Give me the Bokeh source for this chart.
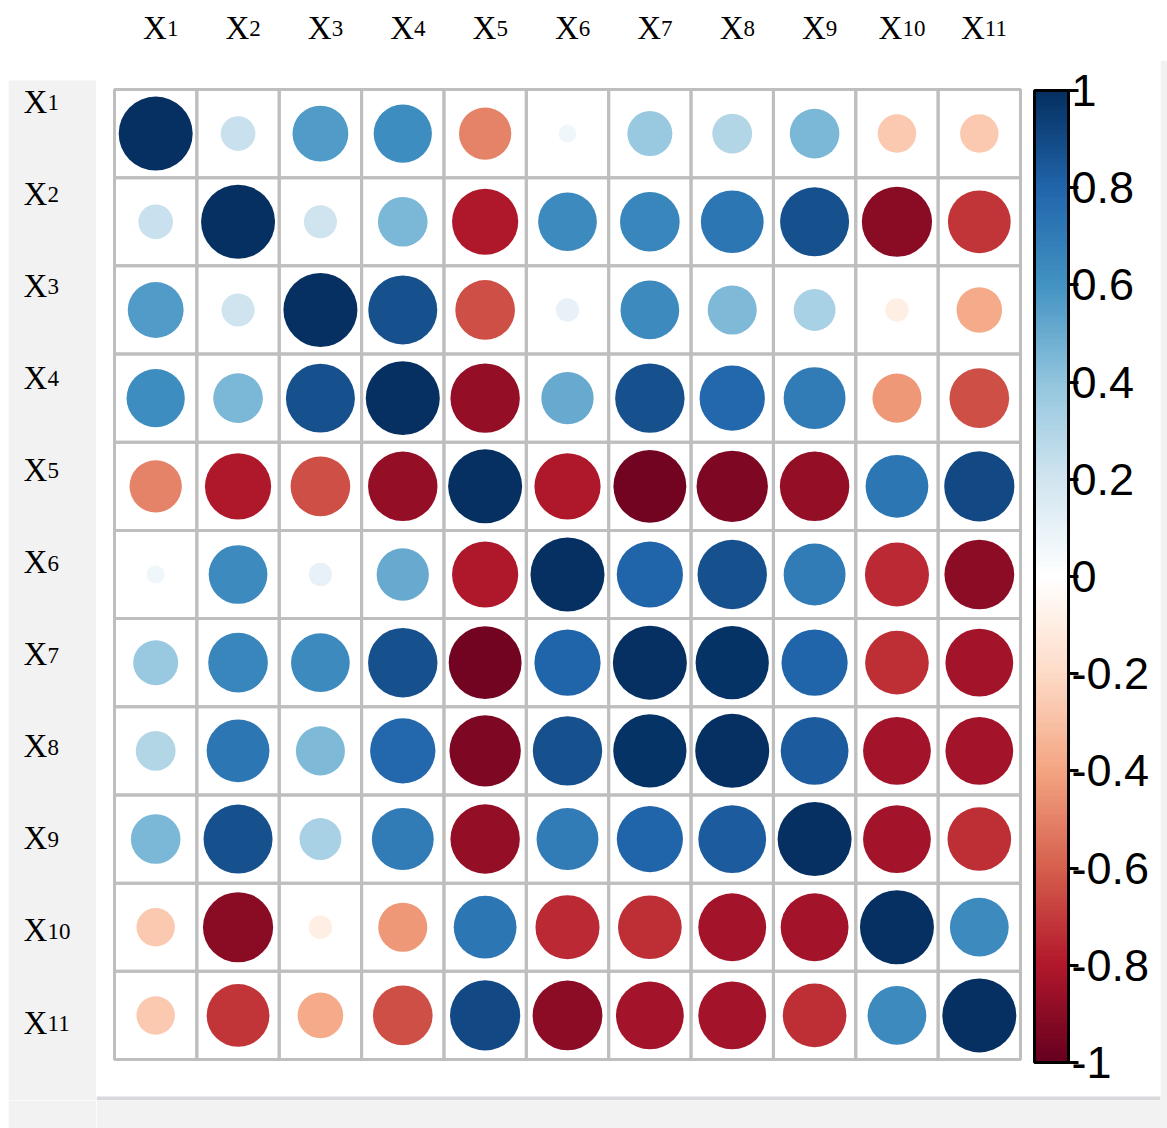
from bokeh.plotting import figure
from bokeh.models import ColumnDataSource, LinearColorMapper, ColorBar, FixedTicker, Range1d, Span, Spacer
from bokeh.layouts import column, row
from bokeh.core.properties import value
from bokeh.embed import file_html
from bokeh.resources import INLINE

# ---------------- data ----------------
var_names = ["X1", "X2", "X3", "X4", "X5", "X6", "X7", "X8", "X9", "X10", "X11"]

row_X1 = [1.00, 0.22, 0.57, 0.62, -0.50, 0.06, 0.37, 0.29, 0.45, -0.27, -0.27]
row_X2 = [0.22, 1.00, 0.20, 0.45, -0.80, 0.63, 0.65, 0.72, 0.87, -0.90, -0.72]
row_X3 = [0.57, 0.20, 1.00, 0.87, -0.65, 0.10, 0.63, 0.44, 0.32, -0.10, -0.38]
row_X4 = [0.62, 0.45, 0.87, 1.00, -0.88, 0.50, 0.88, 0.78, 0.70, -0.44, -0.65]
row_X5 = [-0.50, -0.80, -0.65, -0.88, 1.00, -0.80, -0.97, -0.93, -0.88, 0.72, 0.90]
row_X6 = [0.06, 0.63, 0.10, 0.50, -0.80, 1.00, 0.80, 0.88, 0.70, -0.75, -0.89]
row_X7 = [0.37, 0.65, 0.63, 0.88, -0.97, 0.80, 1.00, 0.98, 0.80, -0.74, -0.84]
row_X8 = [0.29, 0.72, 0.44, 0.78, -0.93, 0.88, 0.98, 1.00, 0.84, -0.84, -0.84]
row_X9 = [0.45, 0.87, 0.32, 0.70, -0.88, 0.70, 0.80, 0.84, 1.00, -0.84, -0.74]
row_X10 = [-0.27, -0.90, -0.10, -0.44, 0.72, -0.75, -0.74, -0.84, -0.84, 1.00, 0.63]
row_X11 = [-0.27, -0.72, -0.38, -0.65, 0.90, -0.89, -0.84, -0.84, -0.74, 0.63, 1.00]
corr_rows = [row_X1, row_X2, row_X3, row_X4, row_X5, row_X6, row_X7, row_X8, row_X9, row_X10, row_X11]

colorbar_ticks = [-1, -0.8, -0.6, -0.4, -0.2, 0, 0.2, 0.4, 0.6, 0.8, 1]
colorbar_labels = ["-1", "-0.8", "-0.6", "-0.4", "-0.2", "0", "0.2", "0.4", "0.6", "0.8", "1"]

# ---------------- colour map (corrplot COL2 "RdBu") ----------------
anchors = ["#67001F", "#B2182B", "#D6604D", "#F4A582", "#FDDBC7", "#FFFFFF",
           "#D1E5F0", "#92C5DE", "#4393C3", "#2166AC", "#053061"]


def _rgb(h):
    return tuple(int(h[k:k + 2], 16) for k in (1, 3, 5))


def make_palette(cols, n=200):
    rgbs = [_rgb(c) for c in cols]
    out = []
    for k in range(n):
        t = k / (n - 1) * (len(rgbs) - 1)
        i = min(int(t), len(rgbs) - 2)
        f = t - i
        a, b = rgbs[i], rgbs[i + 1]
        out.append("#%02x%02x%02x" % tuple(round(a[c] + (b[c] - a[c]) * f) for c in range(3)))
    return out


palette = make_palette(anchors)
mapper = LinearColorMapper(palette=palette, low=-1, high=1)

n = len(var_names)
GRAY = "#f2f2f2"

# ---------------- geometry (pixels) ----------------
top_h = 60              # header row with the column labels (page 0..60)
cell_w = 906 / n        # grid 114..1020 px
cell_h = 970 / n        # grid 89..1059 px
frame_left_pad = 18     # frame left 96 -> grid 114
frame_right_pad = 140   # grid 1020 -> frame 1160
frame_top_pad = 89 - top_h
frame_bot_pad = 41      # grid 1059 -> frame 1100
body_h = 1128 - top_h   # height of the lower row
bottom_border = 28
max_diam = 74

x_range = Range1d(-0.5 - frame_left_pad / cell_w, n - 0.5 + frame_right_pad / cell_w)
y_bottom = n - 0.5 + frame_bot_pad / cell_h
y_range = Range1d(y_bottom, -0.5 - frame_top_pad / cell_h)

# ---------------- main figure ----------------
xs, ys, rs, ds = [], [], [], []
for i, rw in enumerate(corr_rows):
    for j, r in enumerate(rw):
        xs.append(j)
        ys.append(i)
        rs.append(r)
        ds.append(max_diam * abs(r) ** 0.5)
src = ColumnDataSource(dict(x=xs, y=ys, r=rs, d=ds))

main = figure(width=1071, height=body_h, x_range=x_range, y_range=y_range,
              output_backend="svg", toolbar_location=None,
              x_axis_location=None, y_axis_location=None,
              min_border=0, min_border_bottom=bottom_border, min_border_right=7,
              background_fill_color="white", border_fill_color=GRAY,
              outline_line_color=None)
main.grid.visible = False

main.rect(x="x", y="y", width=1, height=1, source=src, fill_color=None,
          line_color="#bebebe", line_width=3)
main.scatter(x="x", y="y", size="d", marker="circle", source=src,
             fill_color={"field": "r", "transform": mapper}, line_color=None)

main.add_layout(Span(location=y_bottom - 2 / cell_h, dimension="width",
                     line_color="#d6d8db", line_width=4))

cb = ColorBar(color_mapper=mapper, orientation="vertical",
              ticker=FixedTicker(ticks=colorbar_ticks),
              major_label_overrides={t: s for t, s in zip(colorbar_ticks, colorbar_labels)},
              location=(938, 38), width=34, height=972, padding=0, margin=0,
              bar_line_color="black", bar_line_width=3,
              major_tick_line_color="black", major_tick_line_width=3,
              major_tick_in=0, major_tick_out=10, minor_tick_line_color=None,
              label_standoff=-7,
              major_label_text_font="Liberation Sans",
              major_label_text_font_size="45px",
              major_label_text_color="black",
              background_fill_color=None, border_line_color=None)
main.add_layout(cb)

# ---------------- label helpers ----------------
X_W = 24.0      # width of "X" at 33px
DIG_W = 11.5    # width of one subscript digit at 23px
subs = [name[1:] for name in var_names]
bases = [name[0] for name in var_names]

# ---------------- top (column labels) ----------------
top = figure(width=1167, height=top_h, x_range=x_range, y_range=Range1d(top_h, 0),
             output_backend="svg", toolbar_location=None,
             x_axis_location=None, y_axis_location=None,
             min_border=0, min_border_left=96, min_border_right=7,
             background_fill_color="white", border_fill_color="white",
             outline_line_color=None)
top.grid.visible = False
col_off = [5 + (X_W - len(s) * DIG_W) / 2 for s in subs]
top_src = ColumnDataSource(dict(x=list(range(n)), y=[27] * n, base=bases, sub=subs, off=col_off))
top.text(x="x", y="y", text="base", x_offset="off", source=top_src,
         text_font=value("Liberation Serif"), text_font_size="33px",
         text_align="right", text_baseline="alphabetic", text_color="black")
top.text(x="x", y="y", text="sub", x_offset="off", y_offset=1, source=top_src,
         text_font=value("Liberation Serif"), text_font_size="23px",
         text_align="left", text_baseline="alphabetic", text_color="black")

# ---------------- left (row labels) ----------------
lab_step = 92.1             # spacing of row-label baselines
lab_first = 101 - top_h     # first label anchor (page y 101)
white_strip = 80 - top_h    # page y top_h..80 stays white
left_frame_h = body_h - bottom_border
ly_top = -lab_first / lab_step
ly_bot = ly_top + left_frame_h / lab_step
left = figure(width=88, height=body_h, x_range=Range1d(8, 96),
              y_range=Range1d(ly_bot, ly_top),
              output_backend="svg", toolbar_location=None,
              x_axis_location=None, y_axis_location=None,
              min_border=0, min_border_bottom=bottom_border,
              background_fill_color="white", border_fill_color=GRAY,
              outline_line_color=None)
left.grid.visible = False
left.quad(left=8, right=96, top=ly_top + white_strip / lab_step, bottom=ly_bot,
          fill_color=GRAY, line_color=None)
left_src = ColumnDataSource(dict(x=[23] * n, y=list(range(n)), base=bases, sub=subs))
left.text(x="x", y="y", text="base", source=left_src,
          text_font=value("Liberation Serif"), text_font_size="33px",
          text_align="left", text_baseline="alphabetic", text_color="black")
left.text(x="x", y="y", text="sub", x_offset=X_W, y_offset=1, source=left_src,
          text_font=value("Liberation Serif"), text_font_size="23px",
          text_align="left", text_baseline="alphabetic", text_color="black")

layout = column(top, row(Spacer(width=8, height=body_h), left, main))
open("out.html", "w").write(file_html(layout, INLINE))
